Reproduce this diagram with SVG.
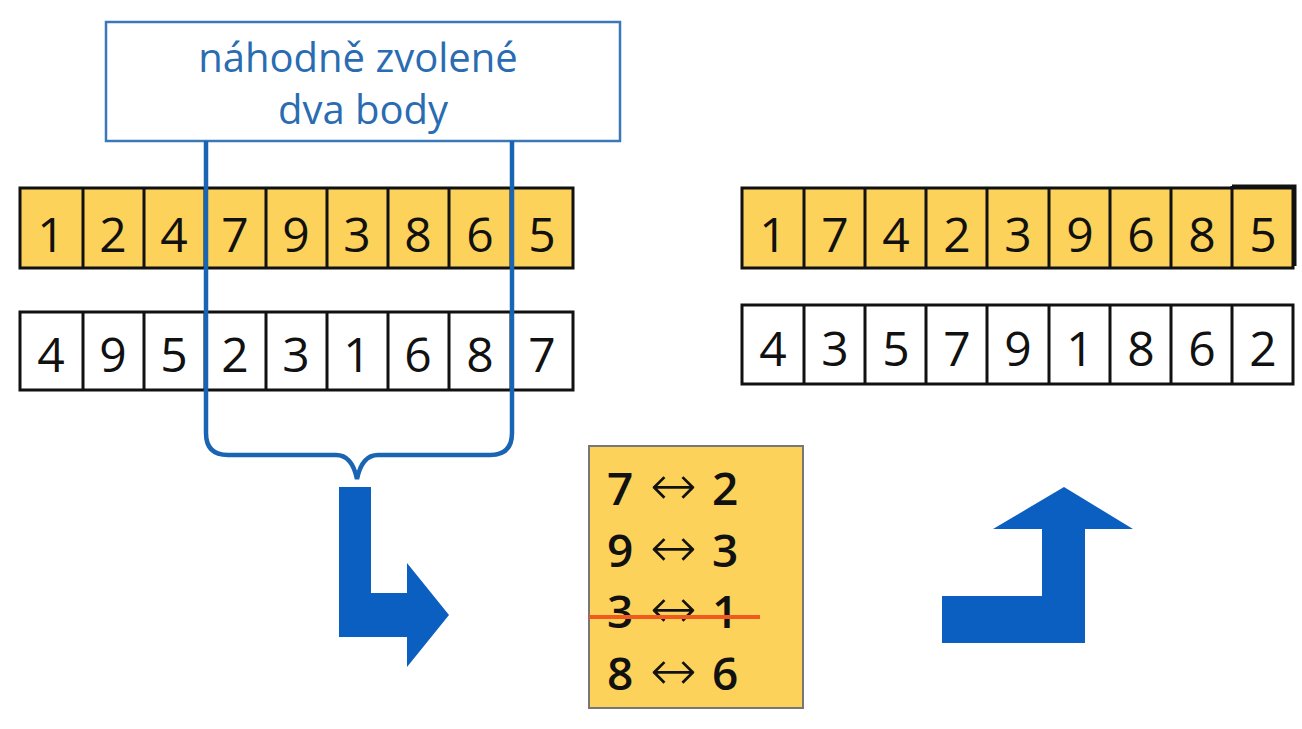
<svg xmlns="http://www.w3.org/2000/svg" width="1302" height="729" viewBox="0 0 1302 729">
<style>
.y{fill:#fcd25a;stroke:#111;stroke-width:3}
.w{fill:#fff;stroke:#111;stroke-width:3}
.d{font-family:"Open Sans","Noto Sans",sans-serif;font-size:48px;fill:#111;text-anchor:middle}
.s{font-family:"Open Sans","Noto Sans",sans-serif;font-size:46px;font-weight:600;fill:#111}
.a{font-family:"DejaVu Sans",sans-serif;font-size:56px;font-weight:200}
.t{font-family:"Open Sans","Noto Sans",sans-serif;font-size:40px;fill:#2a6cb2;text-anchor:middle}
.blue{fill:#0b5fc0}
</style>
<rect width="1302" height="729" fill="#fff"/>
<g id="label">
<rect x="106" y="22" width="514" height="119" fill="#fff" stroke="#3a78b8" stroke-width="2.5"/>
<text class="t" x="358" y="72">náhodně zvolené</text>
<text class="t" x="363" y="124">dva body</text>
</g>
<g id="parent1">
<rect class="y" x="20" y="188" width="553" height="80"/>
<path d="M83 188V268M144 188V268M205 188V268M266 188V268M327 188V268M388 188V268M449 188V268M511 188V268" stroke="#111" stroke-width="3"/>
<text class="d" x="51" y="252">1</text><text class="d" x="113" y="252">2</text><text class="d" x="174" y="252">4</text><text class="d" x="235" y="252">7</text><text class="d" x="296" y="252">9</text><text class="d" x="357" y="252">3</text><text class="d" x="418" y="252">8</text><text class="d" x="480" y="252">6</text><text class="d" x="542" y="252">5</text>
</g>
<g id="parent2">
<rect class="w" x="20" y="312" width="553" height="78"/>
<path d="M83 312V390M144 312V390M205 312V390M266 312V390M327 312V390M388 312V390M449 312V390M511 312V390" stroke="#111" stroke-width="3"/>
<text class="d" x="51" y="372">4</text><text class="d" x="113" y="372">9</text><text class="d" x="174" y="372">5</text><text class="d" x="235" y="372">2</text><text class="d" x="296" y="372">3</text><text class="d" x="357" y="372">1</text><text class="d" x="418" y="372">6</text><text class="d" x="480" y="372">8</text><text class="d" x="542" y="372">7</text>
</g>
<g id="child1">
<rect class="y" x="742" y="188" width="551" height="80"/>
<path d="M804 188V268M865 188V268M926 188V268M987 188V268M1049 188V268M1110 188V268M1171 188V268M1232 186V268" stroke="#111" stroke-width="3"/>
<path d="M1232 186H1295V266" fill="none" stroke="#111" stroke-width="3"/>
<text class="d" x="773" y="252">1</text><text class="d" x="835" y="252">7</text><text class="d" x="896" y="252">4</text><text class="d" x="957" y="252">2</text><text class="d" x="1018" y="252">3</text><text class="d" x="1080" y="252">9</text><text class="d" x="1141" y="252">6</text><text class="d" x="1202" y="252">8</text><text class="d" x="1263" y="252">5</text>
</g>
<g id="child2">
<rect class="w" x="742" y="305" width="551" height="79"/>
<path d="M804 305V384M865 305V384M926 305V384M987 305V384M1049 305V384M1110 305V384M1171 305V384M1232 305V384" stroke="#111" stroke-width="3"/>
<text class="d" x="773" y="366">4</text><text class="d" x="835" y="366">3</text><text class="d" x="896" y="366">5</text><text class="d" x="957" y="366">7</text><text class="d" x="1018" y="366">9</text><text class="d" x="1080" y="366">1</text><text class="d" x="1141" y="366">8</text><text class="d" x="1202" y="366">6</text><text class="d" x="1263" y="366">2</text>
</g>
<g id="swaps">
<rect x="589" y="446" width="214" height="262" fill="#fcd25a" stroke="#777" stroke-width="2"/>
<text class="s" y="505"><tspan x="607">7</tspan><tspan class="a" x="650">↔</tspan><tspan x="712">2</tspan></text>
<text class="s" y="567"><tspan x="607">9</tspan><tspan class="a" x="650">↔</tspan><tspan x="712">3</tspan></text>
<text class="s" y="628"><tspan x="607">3</tspan><tspan class="a" x="650">↔</tspan><tspan x="712">1</tspan></text>
<text class="s" y="690"><tspan x="607">8</tspan><tspan class="a" x="650">↔</tspan><tspan x="712">6</tspan></text>
<line x1="589" y1="617" x2="760" y2="617" stroke="#f05a1e" stroke-width="4"/>
</g>
<g id="connectors">
<path d="M206 141V433Q206 455 228 455H336Q352 455 357 479Q362 455 378 455H490Q512 455 512 433V141" fill="none" stroke="#1a64b4" stroke-width="4.5"/>
<path class="blue" d="M339 487H371V593H407V563L449 615L407 667V637H339Z"/>
<path class="blue" d="M942 596H1042V529H993L1064 487L1133 529H1085V643H942Z"/>
</g>
</svg>
